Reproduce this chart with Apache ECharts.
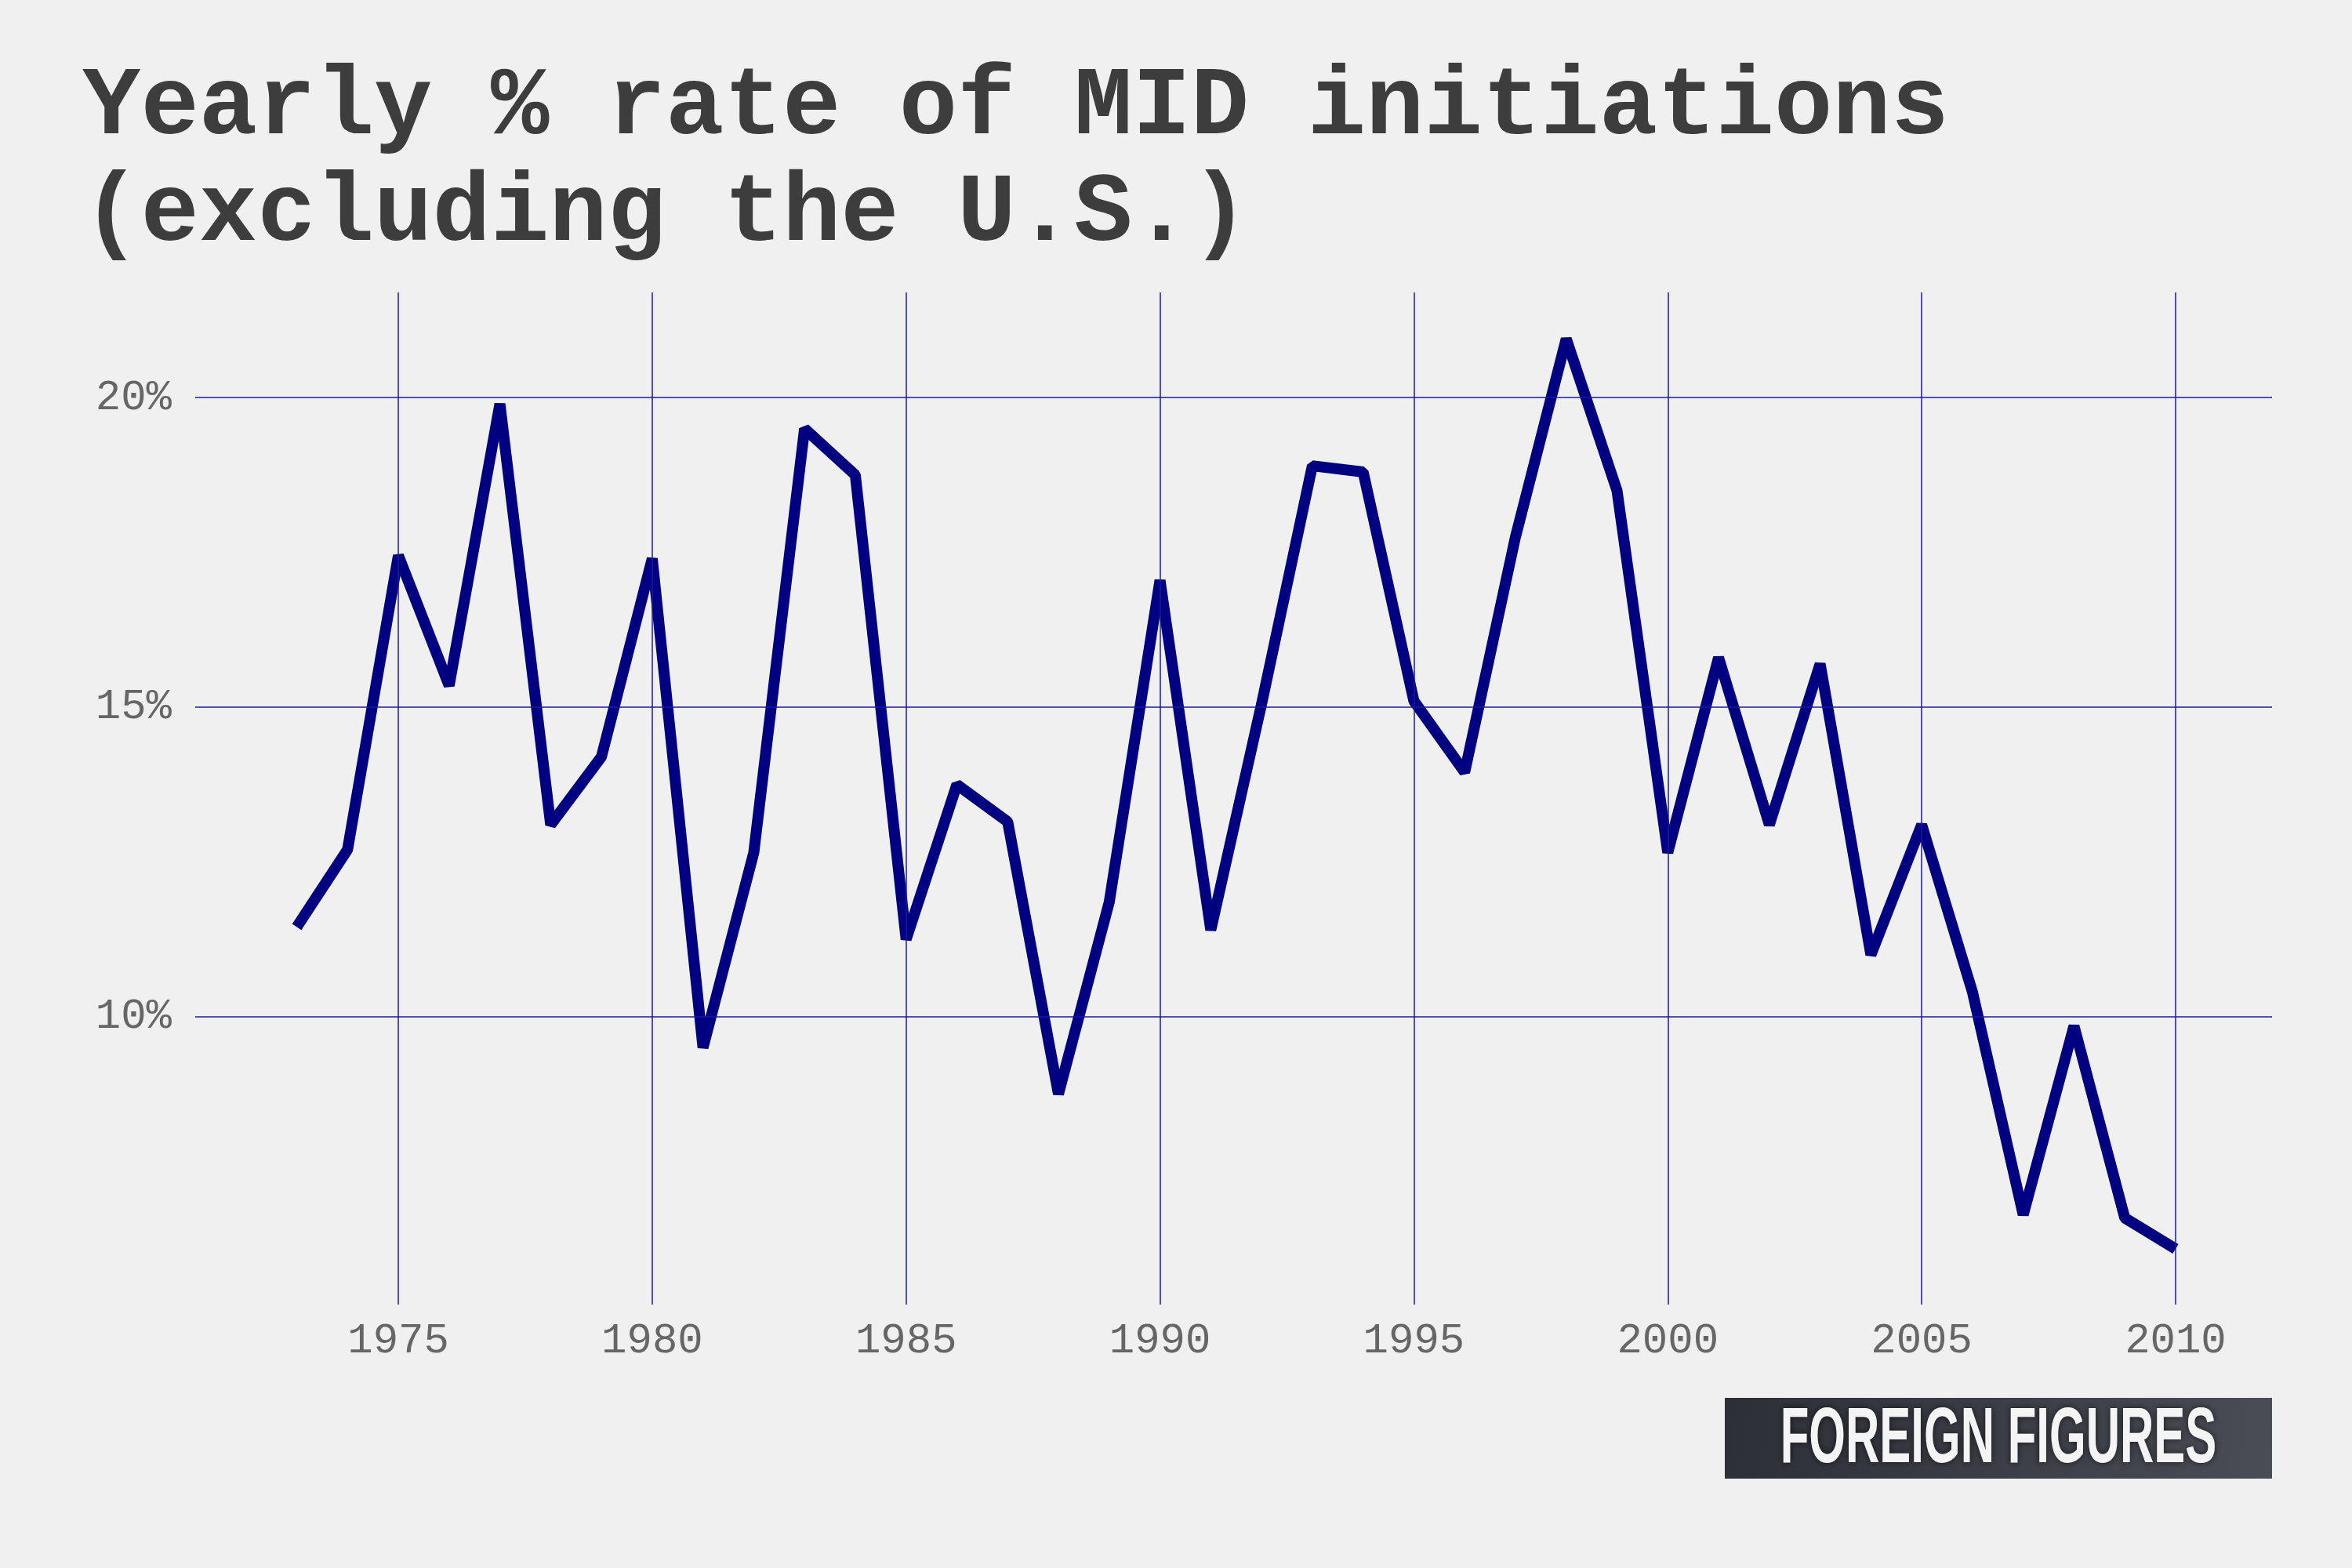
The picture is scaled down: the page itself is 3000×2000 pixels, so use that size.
<!DOCTYPE html>
<html><head><meta charset="utf-8">
<script src="https://cdn.jsdelivr.net/npm/echarts@6/dist/echarts.min.js"></script>
<style>html,body{margin:0;background:#f0f0f0}#c{width:3000px;height:2000px}</style>
</head><body><div id="c"></div>
<script>
// yearly % rate of MID initiations
var years = [1973,1974,1975,1976,1977,1978,1979,1980,1981,1982,1983,1984,1985,1986,1987,1988,1989,1990,1991,1992,
  1993,1994,1995,1996,1997,1998,1999,2000,2001,2002,2003,2004,2005,2006,2007,2008,2009,2010];
var rates = [11.45,12.7,17.45,15.35,19.9,13.1,14.2,17.4,9.5,12.65,19.5,18.75,11.25,13.75,13.15,8.75,11.85,17.05,11.4,15.05,
  18.9,18.8,15.1,13.95,17.75,20.95,18.5,12.65,15.8,13.1,15.7,11.0,13.1,10.4,6.8,9.85,6.75,6.25];
var xTicks = [1975,1980,1985,1990,1995,2000,2005,2010];
var yTicks = [10,15,20];

var chart = echarts.init(document.getElementById('c'));
var gridLine = {color: '#1a1aa0', width: 1.5, type: 'solid'};
var option = {
  backgroundColor: '#f0f0f0',
  animation: false,
  title: {
    text: 'Yearly % rate of MID initiations\n(excluding the U.S.)',
    left: 100, top: 66,
    textStyle: {fontFamily: 'Liberation Mono', fontWeight: 'bold', fontSize: 124, color: '#3d3d3d', lineHeight: 136}
  },
  grid: {left: 249, right: 102, top: 373, bottom: 336},
  xAxis: {
    type: 'value', min: 1971, max: 2011.9,
    axisLine: {show: false}, axisTick: {show: false}, splitLine: {show: false},
    axisLabel: {customValues: xTicks, margin: 20, fontFamily: 'Liberation Mono', fontSize: 54, color: '#666',
      formatter: function (v) { return String(v); }}
  },
  yAxis: {
    type: 'value', min: 5.35, max: 21.7,
    axisLine: {show: false}, axisTick: {show: false}, splitLine: {show: false},
    axisLabel: {customValues: yTicks, margin: 30, fontFamily: 'Liberation Mono', fontSize: 54, color: '#666',
      formatter: function (v) { return v + '%'; }}
  },
  series: [{
    type: 'line',
    data: years.map(function (y, i) { return [y, rates[i]]; }),
    symbol: 'none',
    lineStyle: {color: '#000080', width: 14},
    z: 3,
    markLine: {
      silent: true, symbol: 'none', label: {show: false},
      lineStyle: gridLine,
      data: xTicks.map(function (t) { return {xAxis: t}; }).concat(yTicks.map(function (t) { return {yAxis: t}; }))
    }
  }],
  graphic: [{
    type: 'group', left: 2200, top: 1783,
    children: [
      {type: 'rect', shape: {width: 698, height: 103},
        style: {fill: new echarts.graphic.LinearGradient(0, 0, 1, 1, [{offset: 0, color: '#2c2f36'}, {offset: 1, color: '#4a4d55'}])}},
      {type: 'text', x: 349, y: 54, scaleX: 0.6,
        style: {text: 'FOREIGN FIGURES', fill: '#f4f4f4', font: 'bold 100px "Liberation Sans Narrow", "Liberation Sans", sans-serif',
          align: 'center', verticalAlign: 'middle', textShadowColor: 'rgba(0,0,0,0.6)', textShadowBlur: 8}}
    ]
  }]
};
chart.setOption(option);
</script></body></html>
